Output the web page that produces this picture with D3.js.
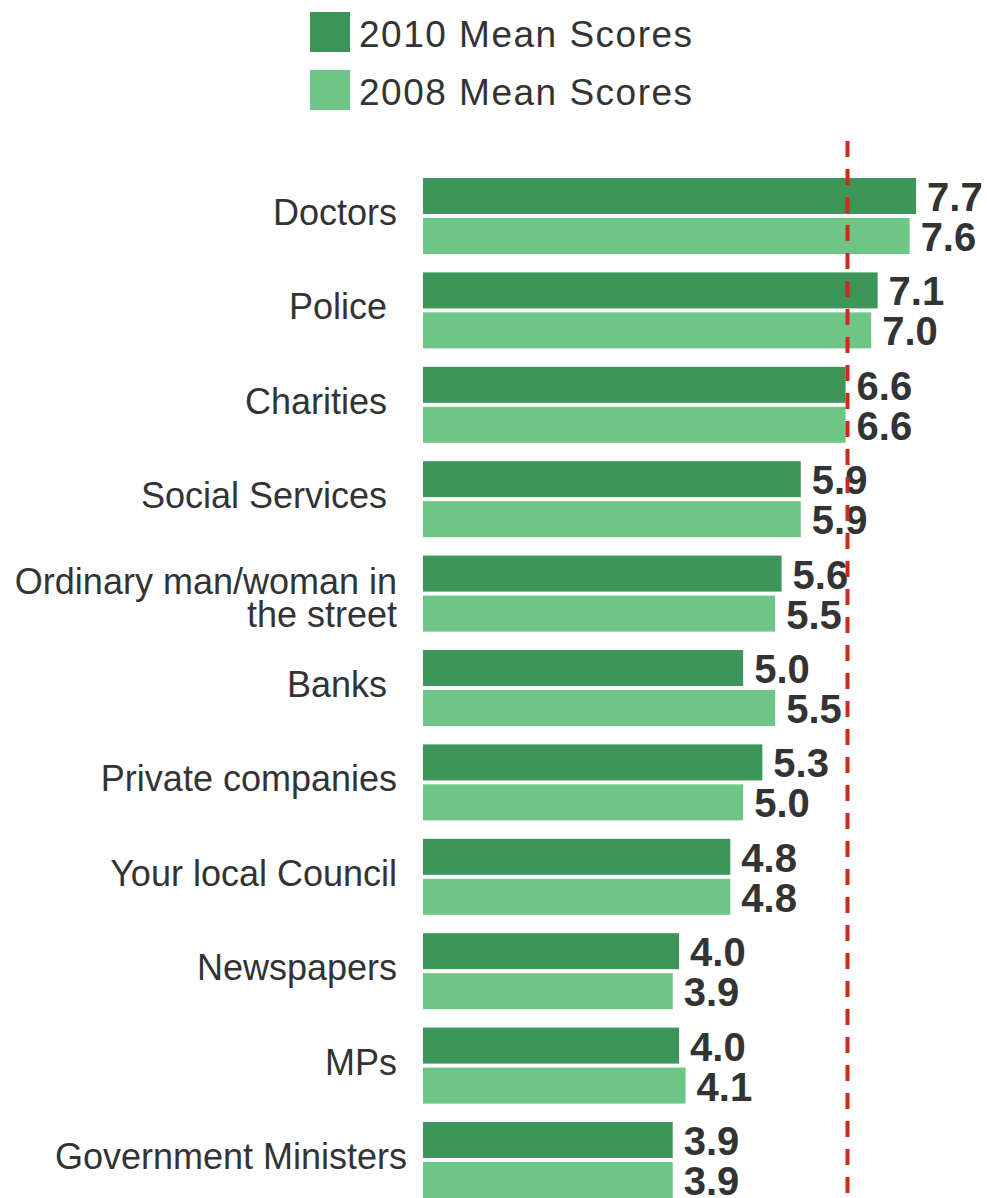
<!DOCTYPE html>
<html>
<head>
<meta charset="utf-8">
<script src="https://cdn.jsdelivr.net/npm/d3@7"></script>
<style>
  html, body { margin: 0; padding: 0; background: #fff; }
  svg { display: block; }
  .cat { white-space: pre; }
</style>
</head>
<body>
<svg id="chart" width="987" height="1198"></svg>
<script>
// Trust ratings by group (mean scores)
const categories = [
  "Doctors ",
  "Police  ",
  "Charities  ",
  "Social Services  ",
  "Ordinary man/woman in |the street ",
  "Banks  ",
  "Private companies ",
  "Your local Council ",
  "Newspapers ",
  "MPs ",
  "Government Ministers"
];
const scores2010 = [7.7, 7.1, 6.6, 5.9, 5.6, 5.0, 5.3, 4.8, 4.0, 4.0, 3.9];
const scores2008 = [7.6, 7.0, 6.6, 5.9, 5.5, 5.5, 5.0, 4.8, 3.9, 4.1, 3.9];
const seriesNames = ["2010 Mean Scores", "2008 Mean Scores"];
const referenceValue = 6.63;

const colors = ["#3d9659", "#6dc686"];
const textColor = "#333";
const fontFamily = "'Liberation Sans', Arial, Helvetica, sans-serif";

const svg = d3.select("#chart").attr("font-family", fontFamily);

const rows = categories.map((c, i) => ({
  label: c,
  values: [scores2010[i], scores2008[i]]
}));

const x = d3.scaleLinear().domain([0, 8]).range([423, 423 + 8 * 64.03]);

const step = 94.4;
const padInner = 0.195;
const y = d3.scaleBand()
  .domain(categories)
  .range([178, 178 + step * (categories.length - padInner)])
  .paddingInner(padInner)
  .paddingOuter(0);

const ySeries = d3.scaleBand()
  .domain(seriesNames)
  .range([0, y.bandwidth()])
  .paddingInner(0.1);

// Legend
const legend = svg.append("g");
seriesNames.forEach((name, i) => {
  const g = legend.append("g").attr("transform", `translate(310,${12 + i * 58})`);
  g.append("rect").attr("width", 40).attr("height", 40).attr("fill", colors[i]);
  g.append("text")
    .attr("x", 49).attr("y", 35)
    .attr("font-size", 37)
    .attr("letter-spacing", 1.5)
    .attr("fill", textColor)
    .text(name);
});

// Bar groups
const groups = svg.append("g").selectAll("g")
  .data(rows)
  .join("g")
  .attr("transform", d => `translate(0,${y(d.label)})`);

groups.selectAll("rect")
  .data(d => d.values.map((v, i) => ({ v, i })))
  .join("rect")
  .attr("x", x(0))
  .attr("y", d => ySeries(seriesNames[d.i]))
  .attr("width", d => x(d.v) - x(0))
  .attr("height", ySeries.bandwidth())
  .attr("fill", d => colors[d.i]);

groups.selectAll("text.val")
  .data(d => d.values.map((v, i) => ({ v, i })))
  .join("text")
  .attr("class", "val")
  .attr("x", d => x(d.v) + 11)
  .attr("y", d => ySeries(seriesNames[d.i]) + ySeries.bandwidth() / 2 + 15)
  .attr("font-size", 40)
  .attr("font-weight", "bold")
  .attr("fill", textColor)
  .text(d => d3.format(".1f")(d.v));

// Category labels (right-aligned, may wrap on "|")
groups.each(function (d) {
  const lines = d.label.split("|");
  const mid = y.bandwidth() / 2;
  const first = mid + 9 - (lines.length - 1) * 9;
  const t = d3.select(this).append("text")
    .attr("class", "cat")
    .attr("text-anchor", "end")
    .attr("font-size", 36)
    .attr("fill", textColor);
  lines.forEach((line, k) => {
    t.append("tspan")
      .attr("x", 407)
      .attr("y", first + k * 33)
      .text(line);
  });
});

// Reference line
svg.append("line")
  .attr("x1", x(referenceValue)).attr("x2", x(referenceValue))
  .attr("y1", 141).attr("y2", 1198)
  .attr("stroke", "#d0281d")
  .attr("stroke-width", 4)
  .attr("stroke-dasharray", "16,12");
</script>
</body>
</html>
